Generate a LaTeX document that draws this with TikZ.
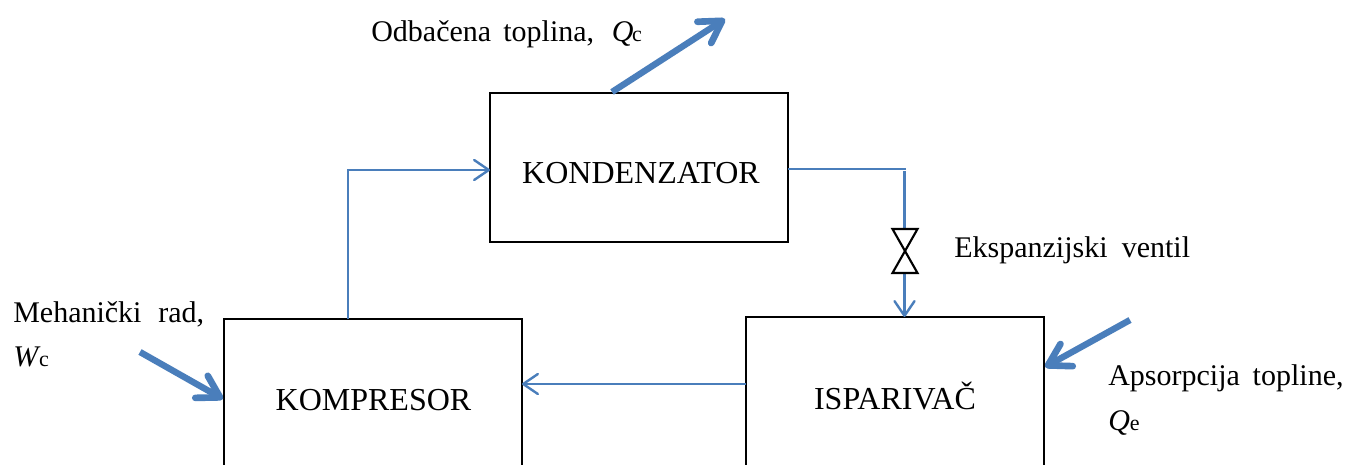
\documentclass[tikz,border=0pt]{standalone}
\usepackage{fontspec}
\setmainfont{Liberation Serif}
\usetikzlibrary{arrows.meta}
\definecolor{flow}{HTML}{4A7EBB}
\newcommand{\subidx}[1]{{\fontsize{16.5pt}{18pt}\selectfont #1}}
\tikzset{
  x=0.75pt,y=-0.75pt,
  every node/.style={font=\fontsize{22.5pt}{28pt}\selectfont},
  unitbox/.style={draw=black,line width=1.5pt,minimum width=223.5pt,inner sep=0pt,outer sep=0pt,anchor=north west,text=black},
  unitlabel/.style={font=\fontsize{24pt}{28pt}\selectfont,text=black,inner sep=0pt},
  caption/.style={anchor=base west,inner sep=0pt,text=black},
  thinflow/.style={draw=flow,line width=1.6pt},
  thinarrow/.style={thinflow,-{Straight Barb[length=11pt,width=15pt,line width=1.8pt,round]}},
  heatarrow/.style={draw=flow,line width=4.8pt,-{Straight Barb[length=16pt,width=19pt,line width=5pt,round]}},
  valvebody/.style={draw=black,line width=1.6pt,line join=miter},
}
\begin{document}
\begin{tikzpicture}
\clip (0,0) rectangle (1345,464);
\fill[white] (0,0) rectangle (1345,464);
% units
\node[unitbox,minimum height=111.75pt] (kond) at (490,93) {};
\node[unitlabel] (kondt) at (641,173) {KONDENZATOR};
\node[unitbox,minimum height=122pt] (komp) at (224,319) {};
\node[unitlabel] (kompt) at (373.5,400) {KOMPRESOR};
\node[unitbox,minimum height=122pt] (isp) at (746,317) {};
\node[unitlabel] (ispt) at (895,396) {ISPARIVAČ};
% free coordinates
\coordinate (cornerA) at (348,170);
\coordinate (kondIn) at (490,170);
\coordinate (kompOut) at (348,319);
\coordinate (kondOut) at (788,169);
\coordinate (cornerB) at (906,169);
\coordinate (pipeTop) at (904.5,171);
\coordinate (vTop) at (904.5,229);
\coordinate (vBot) at (904.5,273);
\coordinate (ispIn) at (904.5,317);
\coordinate (ispOut) at (746,384);
\coordinate (kompIn) at (522,384);
\coordinate (qcA) at (612,92);
\coordinate (qcB) at (725,19);
\coordinate (wcA) at (140,352);
\coordinate (wcB) at (223,399);
\coordinate (qeA) at (1130,320);
\coordinate (qeB) at (1045,367);
% refrigerant loop
\draw[thinarrow] (kompOut) -- (cornerA) -- (kondIn);
\draw[thinflow] (kondOut) -- (cornerB);
\draw[thinflow] (pipeTop) -- (vTop);
\draw[thinarrow] (vBot) -- (ispIn);
\draw[thinarrow] (ispOut) -- (kompIn);
% valve
\draw[valvebody] (892.5,229) -- (917.5,229) -- (892.5,273) -- (917.5,273) -- cycle;
% heat and work
\draw[heatarrow] (qcA) -- (qcB);
\draw[heatarrow] (wcA) -- (wcB);
\draw[heatarrow] (qeA) -- (qeB);
% labels
\node[caption] (l1) at (371,41) {Odbačena\hspace{3.5pt} toplina,\hspace{7.6pt} \textit{Q}\kern-1pt\subidx{c}};
\node[caption] (l2) at (13,322) {Mehanički\hspace{7pt} rad,};
\node[caption] (l3) at (13,366) {\textit{W}\kern-1pt\subidx{c}};
\node[caption] (l4) at (954,257) {Ekspanzijski\hspace{5pt} ventil};
\node[caption] (l5) at (1108,385) {Apsorpcija\hspace{4pt} topline,};
\node[caption] (l6) at (1108,430) {\textit{Q}\subidx{e}};
\end{tikzpicture}
\end{document}
